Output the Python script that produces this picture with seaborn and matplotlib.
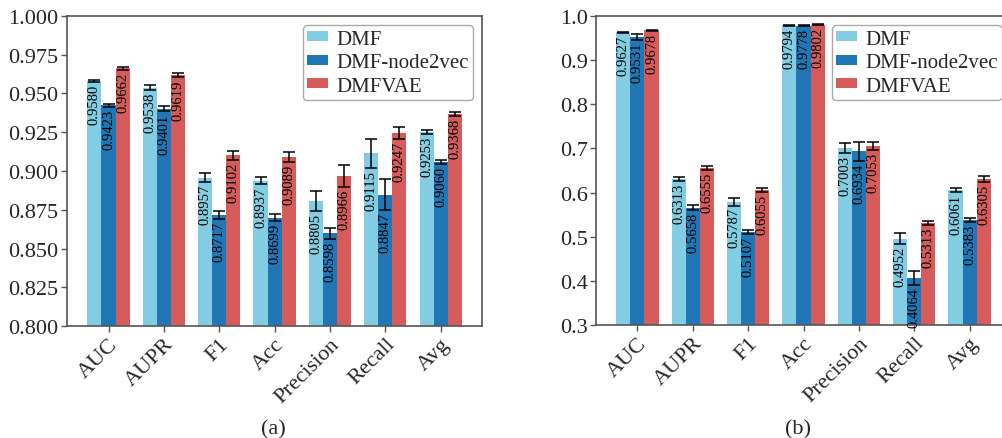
import numpy as np
import pandas as pd
import matplotlib
matplotlib.use('Agg')
import matplotlib.pyplot as plt
import seaborn as sns

metrics = ['AUC', 'AUPR', 'F1', 'Acc', 'Precision', 'Recall', 'Avg']
models = ['DMF', 'DMF-node2vec', 'DMFVAE']

# panel (a)
a_dmf = [0.9580, 0.9538, 0.8957, 0.8937, 0.8805, 0.9115, 0.9253]
a_n2v = [0.9423, 0.9401, 0.8717, 0.8699, 0.8598, 0.8847, 0.9060]
a_vae = [0.9662, 0.9619, 0.9102, 0.9089, 0.8966, 0.9247, 0.9368]
a_dmf_err = [0.0007, 0.0015, 0.0028, 0.0024, 0.0065, 0.0094, 0.0014]
a_n2v_err = [0.0008, 0.0017, 0.0027, 0.0022, 0.0036, 0.0099, 0.0013]
a_vae_err = [0.0008, 0.0015, 0.0030, 0.0032, 0.0070, 0.0038, 0.0014]

# panel (b)
b_dmf = [0.9627, 0.6313, 0.5787, 0.9794, 0.7003, 0.4952, 0.6061]
b_n2v = [0.9531, 0.5658, 0.5107, 0.9778, 0.6934, 0.4064, 0.5383]
b_vae = [0.9678, 0.6555, 0.6055, 0.9802, 0.7053, 0.5313, 0.6305]
b_dmf_err = [0.0010, 0.0045, 0.0080, 0.0010, 0.0110, 0.0124, 0.0040]
b_n2v_err = [0.0064, 0.0050, 0.0050, 0.0010, 0.0210, 0.0160, 0.0050]
b_vae_err = [0.0010, 0.0040, 0.0045, 0.0010, 0.0085, 0.0050, 0.0068]

colors = ['#82cde3', '#2177b5', '#d65c5c']
FONT = 'Liberation Serif'

sns.set_style('white')
plt.rcParams['font.family'] = [FONT, 'DejaVu Serif']


def make_df(vals, errs):
    rows = []
    for m, v, e in zip(models, vals, errs):
        for k, met in enumerate(metrics):
            rows.append({'metric': met, 'model': m, 'score': v[k], 'err': e[k]})
    return pd.DataFrame(rows)


def draw_panel(ax, df, ylim, yticks, fmt, pad):
    sns.barplot(data=df, x='metric', y='score', hue='model', order=metrics,
                hue_order=models, palette=colors, errorbar=None, width=0.76,
                linewidth=0, saturation=1, ax=ax)

    # error bars and rotated value labels
    for cont, m in zip(ax.containers, models):
        sub = df[df['model'] == m].set_index('metric').loc[metrics]
        xs = [p.get_x() + p.get_width() / 2 for p in cont]
        ax.errorbar(xs, sub['score'], yerr=sub['err'], fmt='none',
                    ecolor='black', elinewidth=1.1, capsize=4.5, capthick=1.1)
        for x, v, e in zip(xs, sub['score'], sub['err']):
            ax.text(x, v - e - pad, '%.4f' % v, rotation=90, ha='center',
                    va='top', fontsize=10.5, color='black', family=FONT)

    ax.set_ylim(*ylim)
    ax.set_yticks(yticks)
    ax.set_yticklabels([fmt % t for t in yticks], fontsize=16, family=FONT)
    ax.set_xlim(-0.75, 6.75)
    ax.set_xticks(range(len(metrics)))
    ax.set_xticklabels(metrics, rotation=45, ha='right', va='top',
                       rotation_mode='anchor', fontsize=16, family=FONT)
    ax.set_xlabel('')
    ax.set_ylabel('')
    ax.tick_params(axis='both', direction='out', length=4, width=1,
                   color='#555555', left=True, bottom=True, pad=2)
    for s in ax.spines.values():
        s.set_color('#555555')
        s.set_linewidth(1.2)
    ax.legend(loc='upper right', prop={'family': FONT, 'size': 15},
              handlelength=1.0, handleheight=0.35, labelspacing=0.22,
              handletextpad=0.4, borderpad=0.2, edgecolor='#aaaaaa',
              fancybox=True, framealpha=1, borderaxespad=0.45)


fig = plt.figure(figsize=(10.03, 4.39), dpi=100)
ax1 = fig.add_axes([0.0668, 0.2551, 0.4138, 0.7062])
ax2 = fig.add_axes([0.5942, 0.2574, 0.4138, 0.7039])

draw_panel(ax1, make_df([a_dmf, a_n2v, a_vae], [a_dmf_err, a_n2v_err, a_vae_err]),
           (0.8, 1.0), np.arange(0.800, 1.0001, 0.025), '%.3f', 0.0012)
draw_panel(ax2, make_df([b_dmf, b_n2v, b_vae], [b_dmf_err, b_n2v_err, b_vae_err]),
           (0.3, 1.0), np.arange(0.3, 1.0001, 0.1), '%.1f', 0.004)

fig.text(273 / 1003, 1 - 430 / 439, '(a)', ha='center', va='center',
         fontsize=16, family=FONT)
fig.text(798 / 1003, 1 - 430 / 439, '(b)', ha='center', va='center',
         fontsize=16, family=FONT)

fig.savefig('out.png', dpi=100)
